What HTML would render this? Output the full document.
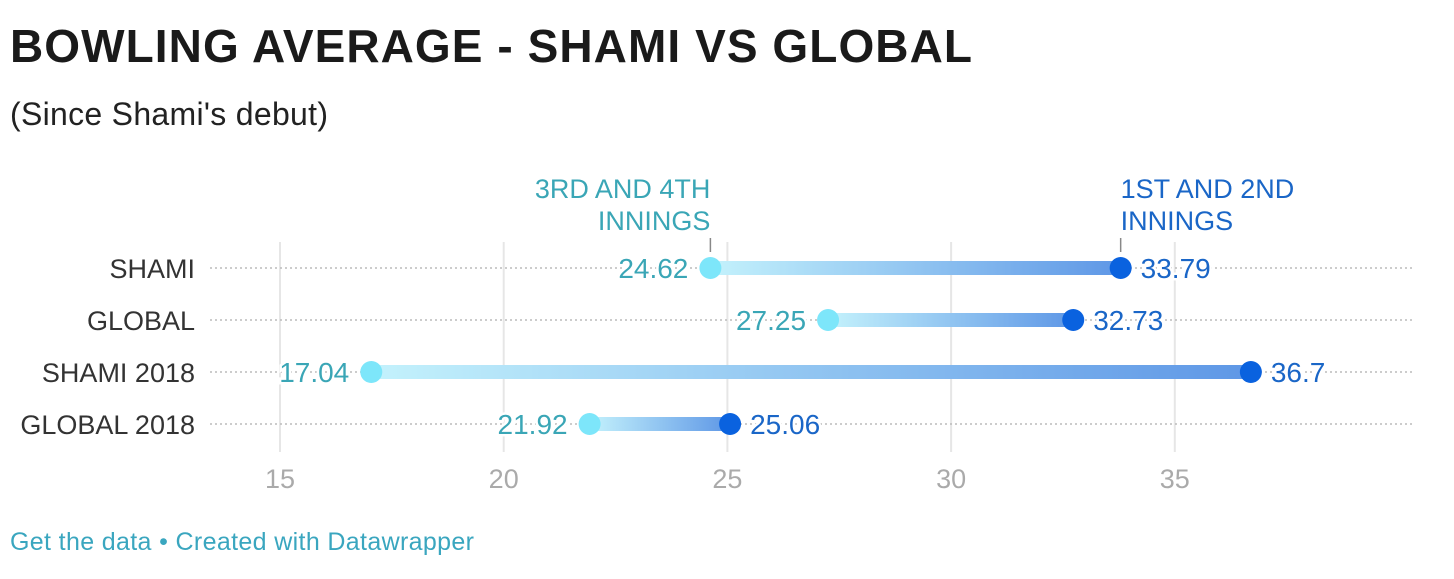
<!DOCTYPE html>
<html><head><meta charset="utf-8"><style>
body{margin:0;background:#fff;width:1454px;height:574px;overflow:hidden;font-family:"Liberation Sans",sans-serif}
</style></head><body>
<svg width="1454" height="574" xmlns="http://www.w3.org/2000/svg">
<defs><linearGradient id="g" x1="0" x2="1" y1="0" y2="0"><stop offset="0" stop-color="#c4f2fc"/><stop offset="1" stop-color="#5e97e6"/></linearGradient></defs>
<text x="10" y="62" font-size="46" font-weight="bold" fill="#1a1a1a" textLength="962">BOWLING AVERAGE - SHAMI VS GLOBAL</text>
<text x="10" y="125" font-size="32" fill="#222" textLength="318">(Since Shami's debut)</text>
<g id="grid"></g><g id="marks"></g>
<text x="10" y="550" font-size="25" fill="#3aa6bf" textLength="464">Get the data • Created with Datawrapper</text>
</svg>
<script>
const categories=["SHAMI","GLOBAL","SHAMI 2018","GLOBAL 2018"];
const innings34=[24.62,27.25,17.04,21.92];
const innings12=[33.79,32.73,36.7,25.06];
const ticks=[15,20,25,30,35];
const NS="http://www.w3.org/2000/svg";
const x=v=>280+(v-15)*44.74;
const y=i=>268+i*52;
const grid=document.getElementById('grid'),marks=document.getElementById('marks');
function mk(p,tag,a,txt){const e=document.createElementNS(NS,tag);for(const k in a)e.setAttribute(k,a[k]);if(txt!==undefined)e.textContent=txt;p.appendChild(e);return e;}
ticks.forEach(t=>{
 const l=mk(grid,'line',{x1:x(t),x2:x(t),y1:242,y2:452,stroke:'#e6e6e6','stroke-width':2});
 
 
 const tx=mk(grid,'text',{x:x(t),y:488,'font-size':27,fill:'#aaa','text-anchor':'middle'},t);
 
 
});
categories.forEach((c,i)=>{
 const r=mk(grid,'line',{x1:210,x2:1412,y1:y(i),y2:y(i),stroke:'#bbb','stroke-width':1.5,'stroke-dasharray':'2 3'});
 
 
 const lab=mk(grid,'text',{x:195,y:y(i)+10,'font-size':27,fill:'#333','text-anchor':'end'},c);
 
 
 const a=x(innings34[i]),b=x(innings12[i]);
 const bar=mk(marks,'rect',{x:a,y:y(i)-7,width:b-a,height:14,fill:'url(#g)'});
 
 
 const d1=mk(marks,'circle',{cx:a,cy:y(i),r:11,fill:'#7de6fa'});
 
 
 const d2=mk(marks,'circle',{cx:b,cy:y(i),r:11,fill:'#0a62df'});
 
 
 const v1=mk(marks,'text',{x:a-22,y:y(i)+10,'font-size':28,fill:'#3aa6b6','text-anchor':'end',stroke:'#fff','stroke-width':5,'paint-order':'stroke'},innings34[i]);
 
 
 const v2=mk(marks,'text',{x:b+20,y:y(i)+10,'font-size':28,fill:'#1a66c7',stroke:'#fff','stroke-width':5,'paint-order':'stroke'},innings12[i]);
 
 
});
const ax=x(innings34[0]),bx=x(innings12[0]);
const n1=mk(marks,'line',{x1:ax,x2:ax,y1:238,y2:252,stroke:'#888','stroke-width':1.5});


const n2=mk(marks,'line',{x1:bx,x2:bx,y1:238,y2:252,stroke:'#888','stroke-width':1.5});


const t1=mk(marks,'text',{'font-size':27,fill:'#3aa6b6','text-anchor':'end'});


mk(t1,'tspan',{x:ax,y:198},'3RD AND 4TH');mk(t1,'tspan',{x:ax,y:230},'INNINGS');
const t2=mk(marks,'text',{'font-size':27,fill:'#1a66c7'});


mk(t2,'tspan',{x:bx,y:198},'1ST AND 2ND');mk(t2,'tspan',{x:bx,y:230},'INNINGS');
</script>
</body></html>
